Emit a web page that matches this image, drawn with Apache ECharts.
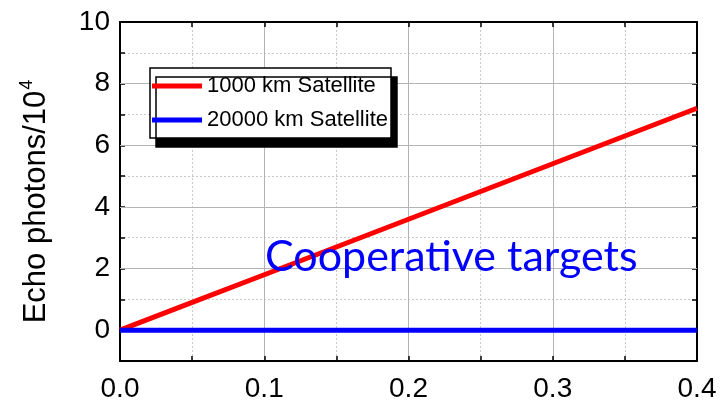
<!DOCTYPE html>
<html>
<head>
<meta charset="utf-8">
<script src="https://cdn.jsdelivr.net/npm/echarts@6/dist/echarts.min.js"></script>
<style>
html,body{margin:0;padding:0;background:#fff;}
#chart{width:727px;height:408px;}
</style>
</head>
<body>
<div id="chart"></div>
<script>
// ---- data ----
var xValues = [0, 0.05, 0.1, 0.15, 0.2, 0.25, 0.3, 0.35, 0.4];
var sat1000 = [0, 0.9, 1.8, 2.7, 3.6, 4.5, 5.4, 6.3, 7.2];
var sat20000 = [0, 0, 0, 0, 0, 0, 0, 0, 0];
var seriesNames = ['1000 km Satellite', '20000 km Satellite'];
var yTickLabels = [0, 2, 4, 6, 8, 10];
var xTickLabels = ['0.0', '0.1', '0.2', '0.3', '0.4'];
var annotation = 'Cooperative targets';
var yTitle = 'Echo photons/10';
var yTitleSup = '4';

function pairs(xs, ys) { return xs.map(function (x, i) { return [x, ys[i]]; }); }

var FONT = "'Liberation Sans', Arial, sans-serif";
var chart = echarts.init(document.getElementById('chart'), null, {renderer: 'canvas'});

var tickStyle = {show: true, inside: true, length: 5, lineStyle: {color: '#000', width: 1.5}};
var axisLineStyle = {show: true, onZero: false, lineStyle: {color: '#000', width: 2}};

chart.setOption({
  animation: false,
  backgroundColor: '#fff',
  grid: {left: 120, right: 30, top: 22, bottom: 47, containLabel: false},
  title: {
    text: annotation,
    left: 260, top: 231,
    textStyle: {color: '#0000ff', fontFamily: "Lato, 'Open Sans', sans-serif", fontSize: 43, fontWeight: 'normal'}
  },
  legend: {
    orient: 'vertical',
    left: 150, top: 68,
    padding: [7, 3, 7, 2],
    itemGap: 12,
    itemWidth: 50, itemHeight: 5,
    icon: 'rect',
    backgroundColor: '#fff',
    borderColor: '#000', borderWidth: 1.5, borderRadius: 0,
    shadowColor: '#000', shadowBlur: 0, shadowOffsetX: 6, shadowOffsetY: 9,
    textStyle: {fontFamily: FONT, fontSize: 22, color: '#000'},
    data: seriesNames
  },
  xAxis: [{
    type: 'value', min: 0, max: 0.4, interval: 0.1,
    axisLine: axisLineStyle,
    axisTick: tickStyle,
    minorTick: {show: true, splitNumber: 2, length: 5, lineStyle: {color: '#000', width: 1.5}},
    splitLine: {show: true, showMinLine: false, showMaxLine: false, lineStyle: {color: '#b4b4b4', width: 1}},
    minorSplitLine: {show: true, lineStyle: {color: '#c8c8c8', width: 1, type: [2, 2]}},
    axisLabel: {
      margin: 14, fontFamily: FONT, fontSize: 28, color: '#000',
      formatter: function (v) { return xTickLabels[Math.round(v * 10)]; }
    }
  }, {
    type: 'value', min: 0, max: 0.4, interval: 0.1, position: 'top',
    axisLine: axisLineStyle,
    axisTick: tickStyle,
    minorTick: {show: true, splitNumber: 2, length: 5, lineStyle: {color: '#000', width: 1.5}},
    splitLine: {show: false},
    axisLabel: {show: false}
  }],
  yAxis: [{
    type: 'value', min: -1, max: 10, interval: 1,
    axisLine: axisLineStyle,
    axisTick: tickStyle,
    splitLine: {show: true, showMinLine: false, showMaxLine: false, lineStyle: {color: '#c8c8c8', width: 1, type: [2, 2]}},
    axisLabel: {
      margin: 10, fontFamily: FONT, fontSize: 28, color: '#000',
      formatter: function (v) { return yTickLabels.indexOf(v) >= 0 ? String(v) : ''; }
    },
    name: '{m|' + yTitle + '}{s|' + yTitleSup + '}',
    nameLocation: 'middle',
    nameRotate: 90,
    nameGap: 66,
    nameTextStyle: {
      fontFamily: FONT, color: '#000',
      padding: [0, 20, 0, 0],
      rich: {
        m: {fontFamily: FONT, fontSize: 31, color: '#000', lineHeight: 36},
        s: {fontFamily: FONT, fontSize: 18, color: '#000', verticalAlign: 'top', lineHeight: 36, padding: [0, 0, 15, 1]}
      }
    }
  }, {
    type: 'value', min: -1, max: 10, interval: 1, position: 'right',
    axisLine: axisLineStyle,
    axisTick: tickStyle,
    splitLine: {show: false},
    axisLabel: {show: false}
  }],
  series: [{
    name: seriesNames[0],
    type: 'line',
    xAxisIndex: 0, yAxisIndex: 0,
    data: pairs(xValues, sat1000),
    showSymbol: false, symbol: 'none',
    lineStyle: {color: '#ff0000', width: 5},
    itemStyle: {color: '#ff0000'},
    z: 3
  }, {
    name: seriesNames[1],
    type: 'line',
    xAxisIndex: 0, yAxisIndex: 0,
    data: pairs(xValues, sat20000),
    showSymbol: false, symbol: 'none',
    lineStyle: {color: '#0000ff', width: 5},
    itemStyle: {color: '#0000ff'},
    z: 3,
    markLine: {
      z: 1,
      silent: true,
      symbol: ['none', 'none'],
      label: {show: false},
      lineStyle: {color: '#b4b4b4', width: 1, type: 'solid'},
      data: yTickLabels.filter(function (v) { return v < 10; }).map(function (v) { return {yAxis: v}; })
    }
  }]
});
</script>
</body>
</html>
